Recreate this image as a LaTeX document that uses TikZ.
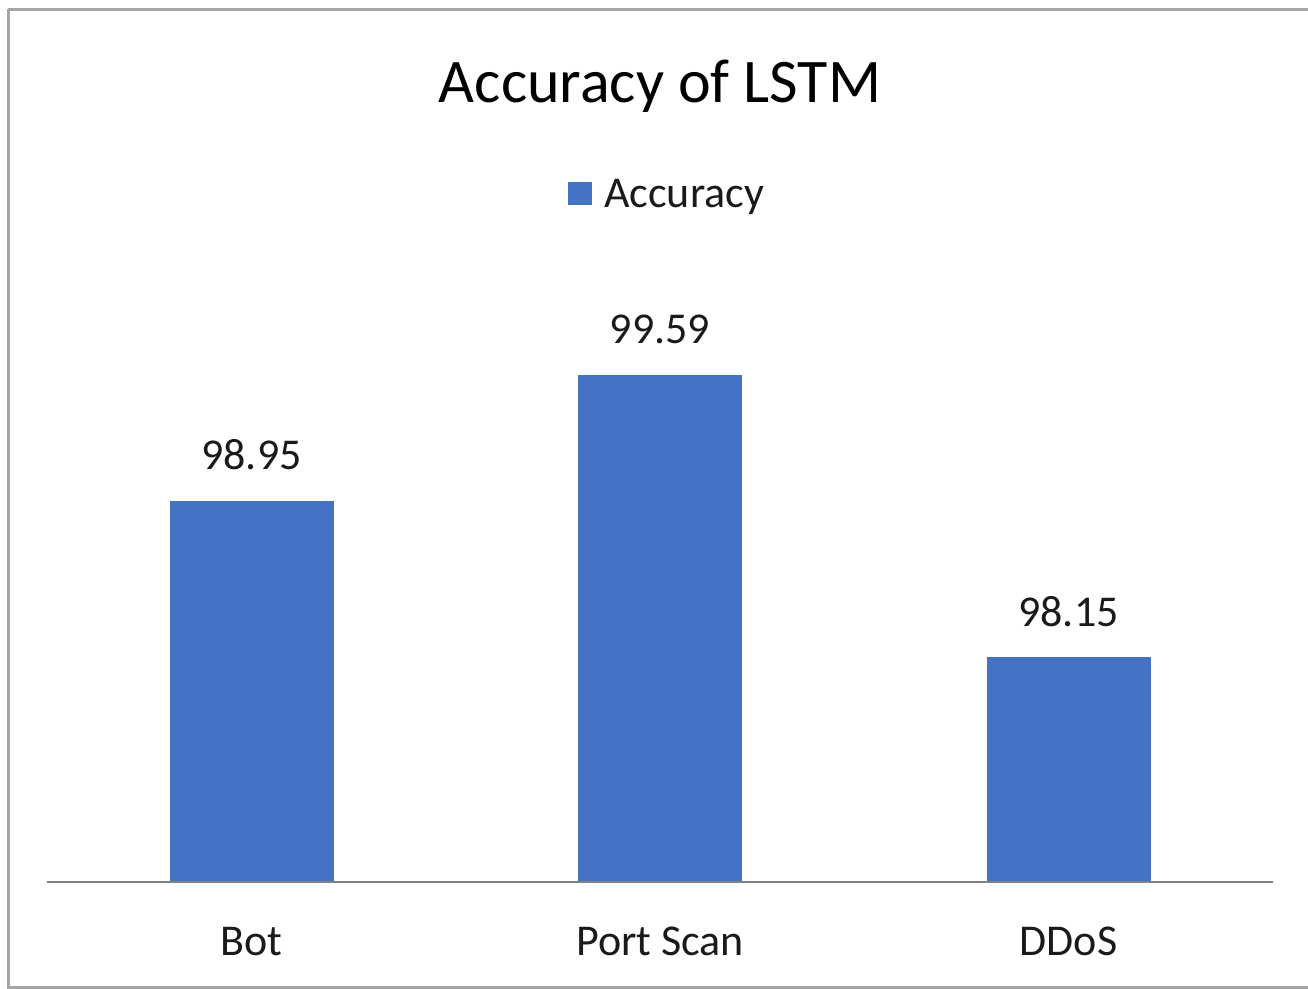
\documentclass[tikz,border=0pt]{standalone}
\usepackage{fontspec}
\setmainfont{Carlito}
\definecolor{barblue}{HTML}{4472C4}
\definecolor{framegray}{HTML}{A6A6A6}
\definecolor{axisgray}{HTML}{808080}
\definecolor{txt}{HTML}{1A1A1A}
\begin{document}
\begin{tikzpicture}[x=1pt,y=-1pt,
  bar/.style={fill=barblue,draw=none,inner sep=0pt,minimum width=164pt,anchor=south},
  vallabel/.style={font=\fontsize{44}{52}\selectfont,text=txt,anchor=base,inner sep=0pt},
  catlabel/.style={font=\fontsize{44}{52}\selectfont,text=txt,anchor=base,inner sep=0pt},
  titlestyle/.style={font=\fontsize{62}{74}\selectfont,text=black,anchor=base,inner sep=0pt}]
\useasboundingbox (0,0) rectangle (1308,988);
\fill[white] (0,0) rectangle (1308,988);
\draw[framegray,line width=3pt] (8,9) -- (1320,9);
\draw[framegray,line width=3pt] (8,9) -- (8,987) -- (1320,987);
% title
\node[titlestyle] (title) at (660,102) {Accuracy of LSTM};
% legend
\node[fill=barblue,minimum width=24pt,minimum height=23pt,inner sep=0pt,anchor=north west] (legsq) at (568,182) {};
\node[vallabel,anchor=base west] (legtxt) at (604,207) {Accuracy};
% bars
\node[bar,minimum height=381pt] (bot) at (251.5,882) {};
\node[bar,minimum height=507pt] (port) at (660,882) {};
\node[bar,minimum height=225pt] (ddos) at (1068.5,882) {};
% axis
\coordinate (axl) at (47,882);
\coordinate (axr) at (1273,882);
\draw[axisgray,line width=1.8pt] (axl) -- (axr);
% value labels
\node[vallabel] (vbot) at (251.5,469) {98.95};
\node[vallabel] (vport) at (660,343) {99.59};
\node[vallabel] (vddos) at (1068.5,626) {98.15};
% category labels
\node[catlabel] (cbot) at (251.5,955) {Bot};
\node[catlabel] (cport) at (660,955) {Port Scan};
\node[catlabel] (cddos) at (1068.5,955) {DDoS};
\end{tikzpicture}
\end{document}
